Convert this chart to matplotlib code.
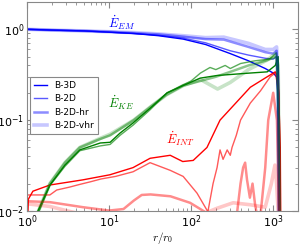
import matplotlib
matplotlib.use("Agg")
import matplotlib.pyplot as plt
import numpy as np

# ---------------- data ----------------
labels = ["B-3D", "B-2D", "B-2D-hr", "B-2D-vhr"]

# E_EM (blue)
em_r = [[1, 2, 5, 10, 20, 40, 80, 150, 300, 500, 800, 1000, 1100, 1140, 1160, 1180],
        [1, 2, 5, 10, 20, 40, 80, 150, 300, 500, 800, 1000, 1100, 1140, 1160, 1180],
        [1, 2, 5, 10, 20, 40, 80, 150, 250, 500, 800, 1000, 1100, 1140, 1160, 1180],
        [1, 2, 5, 10, 20, 40, 80, 150, 250, 500, 800, 1000, 1100, 1140, 1160, 1180]]
em_v = [[1.0, 0.98, 0.96, 0.93, 0.90, 0.85, 0.78, 0.68, 0.54, 0.45, 0.37, 0.33, 0.30, 0.2, 0.05, 0.005],
        [1.0, 0.98, 0.96, 0.93, 0.90, 0.86, 0.80, 0.71, 0.58, 0.52, 0.48, 0.47, 0.50, 0.3, 0.05, 0.005],
        [1.0, 0.98, 0.96, 0.94, 0.91, 0.88, 0.83, 0.78, 0.77, 0.64, 0.56, 0.54, 0.58, 0.3, 0.05, 0.005],
        [1.0, 0.98, 0.96, 0.94, 0.92, 0.89, 0.85, 0.81, 0.82, 0.70, 0.60, 0.60, 0.64, 0.3, 0.05, 0.005]]

# E_KE (green)
ke_r = [[1.36, 1.9, 2.9, 4.4, 7.8, 10.3, 13.6, 19.6, 31.6, 51, 80, 129, 207, 526, 845, 1060, 1150, 1180, 1200],
        [1.4, 1.9, 2.9, 4.4, 7.8, 10.3, 13.6, 19.6, 31.6, 51, 100, 130, 170, 200, 260, 300, 400, 600, 900, 1100, 1170, 1200],
        [1.38, 1.9, 2.9, 4.4, 7.8, 10.3, 20, 32, 50, 80, 130, 200, 300, 500, 800, 1100, 1170, 1200],
        [1.38, 1.9, 2.9, 4.4, 7.8, 10.3, 20, 32, 50, 80, 130, 210, 300, 500, 850, 1060, 1150, 1200]]
ke_v = [[0.01, 0.0193, 0.032, 0.047, 0.056, 0.057, 0.072, 0.093, 0.135, 0.20, 0.24, 0.29, 0.31, 0.33, 0.34, 0.40, 0.5, 0.1, 0.005],
        [0.01, 0.019, 0.031, 0.046, 0.052, 0.054, 0.068, 0.088, 0.13, 0.20, 0.27, 0.33, 0.38, 0.36, 0.40, 0.37, 0.42, 0.45, 0.47, 0.55, 0.1, 0.005],
        [0.01, 0.02, 0.034, 0.05, 0.062, 0.068, 0.10, 0.14, 0.19, 0.24, 0.27, 0.30, 0.34, 0.40, 0.45, 0.50, 0.1, 0.005],
        [0.01, 0.02, 0.034, 0.05, 0.063, 0.070, 0.10, 0.14, 0.19, 0.24, 0.28, 0.22, 0.26, 0.36, 0.46, 0.54, 0.4, 0.005]]

# E_INT (red)
int_r = [[1.0, 1.04, 1.18, 1.9, 4.8, 10.2, 19.6, 31.6, 55.6, 79, 106, 156, 225, 526, 845, 1060, 1150, 1220, 1240],
         [1.0, 1.9, 2.3, 3.3, 4.3, 6.0, 8.0, 12, 19.6, 31.6, 55.6, 80, 118, 160, 185, 207, 225, 245, 275, 300, 315, 355, 400, 526, 700, 920, 1060, 1180, 1230],
         [1.0, 1.9, 4.8, 10, 15, 20, 25, 32, 56, 97, 155, 200, 300, 360, 400, 430, 455, 480, 520, 560, 600, 650, 700, 800, 870, 1000, 1110, 1200],
         [1.0, 1.9, 3.0, 4.0, 10, 100, 150, 207, 325, 525, 800, 950, 1050, 1100, 1200]]
int_v = [[0.005, 0.0135, 0.0165, 0.0193, 0.022, 0.025, 0.030, 0.038, 0.041, 0.035, 0.036, 0.050, 0.10, 0.23, 0.30, 0.34, 0.30, 0.05, 0.005],
         [0.015, 0.015, 0.017, 0.0183, 0.0195, 0.021, 0.0225, 0.024, 0.027, 0.034, 0.028, 0.024, 0.0157, 0.0098, 0.020, 0.030, 0.047, 0.037, 0.047, 0.041, 0.050, 0.068, 0.10, 0.154, 0.21, 0.30, 0.33, 0.2, 0.005],
         [0.0128, 0.0125, 0.011, 0.0101, 0.0105, 0.013, 0.015, 0.0152, 0.0145, 0.0123, 0.0095, 0.008, 0.007, 0.009, 0.02, 0.03, 0.034, 0.022, 0.014, 0.02, 0.012, 0.008, 0.009, 0.03, 0.1, 0.2, 0.1, 0.005],
         [0.012, 0.0112, 0.0101, 0.0095, 0.008, 0.008, 0.0095, 0.0107, 0.0123, 0.0117, 0.011, 0.02, 0.032, 0.02, 0.005]]

# styles per run
alphas = [1.0, 0.65, 0.45, 0.22]
widths = [1.0, 1.0, 1.8, 2.6]

# ---------------- figure ----------------
fig = plt.figure(figsize=(3.0, 2.45), dpi=100)
ax = fig.add_axes([0.09, 0.139, 0.903, 0.853])

handles = []
for i in range(4):
    h, = ax.plot(em_r[i], em_v[i], color='b', alpha=alphas[i], lw=widths[i], label=labels[i])
    handles.append(h)
    ax.plot(ke_r[i], ke_v[i], color='g', alpha=alphas[i], lw=widths[i])
    ax.plot(int_r[i], int_v[i], color='r', alpha=alphas[i], lw=widths[i])

ax.set_xscale('log')
ax.set_yscale('log')
ax.set_xlim(1, 2000)
ax.set_ylim(0.01, 2.0)

gray = '#888888'
for s in ax.spines.values():
    s.set_color(gray)
ax.tick_params(which='both', direction='in', top=True, right=True, color=gray, labelsize=8, pad=2)
ax.tick_params(which='major', length=4)
ax.tick_params(which='minor', length=2)

ax.set_xlabel(r'$r/r_0$', fontsize=8, math_fontfamily='cm', labelpad=0)

ax.text(14.4, 1.19, r'$\dot{E}_{EM}$', color='b', fontsize=9, math_fontfamily='cm', ha='center', va='center')
ax.text(14.0, 0.154, r'$\dot{E}_{KE}$', color='g', fontsize=9, math_fontfamily='cm', ha='center', va='center')
ax.text(75, 0.062, r'$\dot{E}_{INT}$', color='r', fontsize=9, math_fontfamily='cm', ha='center', va='center')

leg = ax.legend(handles=handles, loc='upper left', bbox_to_anchor=(0.011, 0.64),
                borderaxespad=0, fontsize=6.5, handlelength=1.5, fancybox=False,
                frameon=True, framealpha=1)
leg.get_frame().set_edgecolor(gray)
leg.get_frame().set_linewidth(0.8)

fig.savefig('out.png', dpi=100)
